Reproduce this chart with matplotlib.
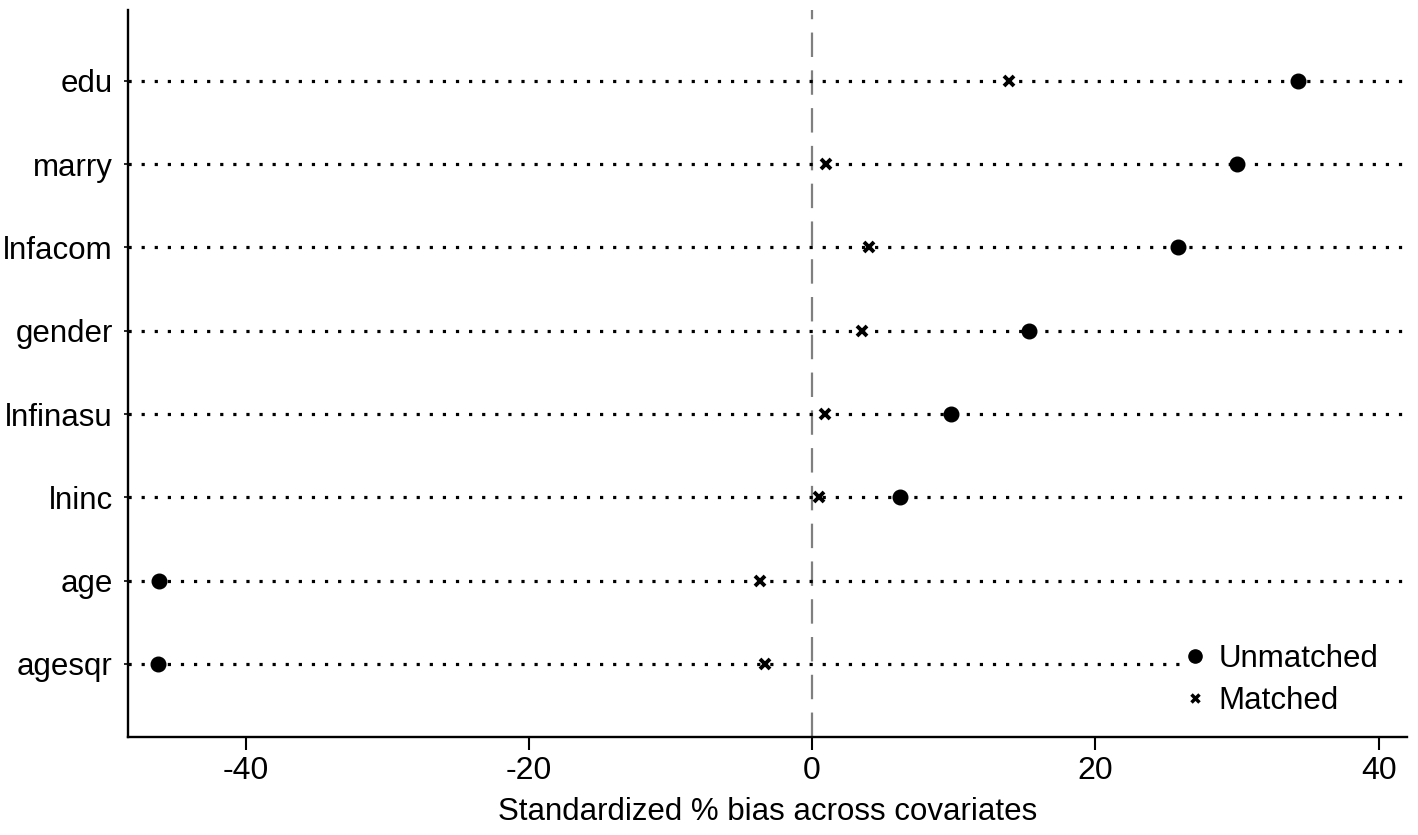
import matplotlib
matplotlib.use("Agg")
import matplotlib.pyplot as plt
from matplotlib.lines import Line2D
from matplotlib.patches import Rectangle

plt.rcParams['font.family'] = ['Liberation Sans', 'DejaVu Sans']

covariates = ["agesqr", "age", "lninc", "lnfinasu", "gender", "lnfacom", "marry", "edu"]
unmatched = [-46.2, -46.1, 6.2, 9.8, 15.3, 25.8, 30.0, 34.3]
matched = [-3.3, -3.7, 0.5, 0.9, 3.5, 4.0, 1.0, 13.9]
xticks = [-40, -20, 0, 20, 40]

fig = plt.figure(figsize=(14.18, 8.35), dpi=100)
ax = fig.add_axes([0.0903, 0.1174, 0.9019, 0.8706])

ypos = list(range(len(covariates)))
xmin, xmax = -48.3, 42.0
for y in ypos:
    ax.plot([xmin, xmax], [y, y], color='black', lw=2.3,
            linestyle=(0, (1, 3.1)), solid_capstyle='butt', zorder=1)

ax.axvline(0, color='#7f7f7f', lw=1.6, linestyle=(0, (11, 6)), zorder=0)

ax.plot(unmatched, ypos, 'o', color='black', markersize=10.5, linestyle='none', zorder=3)
ax.plot(matched, ypos, 'x', color='black', markersize=6.5, markeredgewidth=2.8,
        linestyle='none', zorder=3)

ax.set_xlim(xmin, xmax)
ax.set_ylim(-0.876, 7.85)
ax.set_xticks(xticks)
ax.set_xticklabels([str(t) for t in xticks], fontsize=23)
ax.set_yticks(ypos)
ax.set_yticklabels(covariates, fontsize=22.5)
ax.tick_params(axis='x', length=9.5, width=1.5, pad=4)
ax.tick_params(axis='y', length=3, width=1.2, pad=8)
ax.spines['top'].set_visible(False)
ax.spines['right'].set_visible(False)
ax.spines['left'].set_linewidth(1.7)
ax.spines['bottom'].set_linewidth(1.7)
ax.set_xlabel("Standardized % bias across covariates", fontsize=22.5, labelpad=8)

# white legend area (plot-region legend background)
ax.add_patch(Rectangle((0.828, 0.03), 0.172, 0.115, transform=ax.transAxes,
                       facecolor='white', edgecolor='none', zorder=2))

handles = [Line2D([], [], marker='o', color='black', linestyle='none', markersize=9.5),
           Line2D([], [], marker='x', color='black', linestyle='none', markersize=5.5,
                  markeredgewidth=2.5)]
leg = ax.legend(handles, ["Unmatched", "Matched"], loc='lower right',
                bbox_to_anchor=(0.990, 0.007), frameon=False, fontsize=22.5,
                handlelength=0.4, handletextpad=0.55, labelspacing=0.38,
                borderpad=0.0)
leg.set_zorder(5)

fig.savefig("out.png", dpi=100, facecolor='white')
